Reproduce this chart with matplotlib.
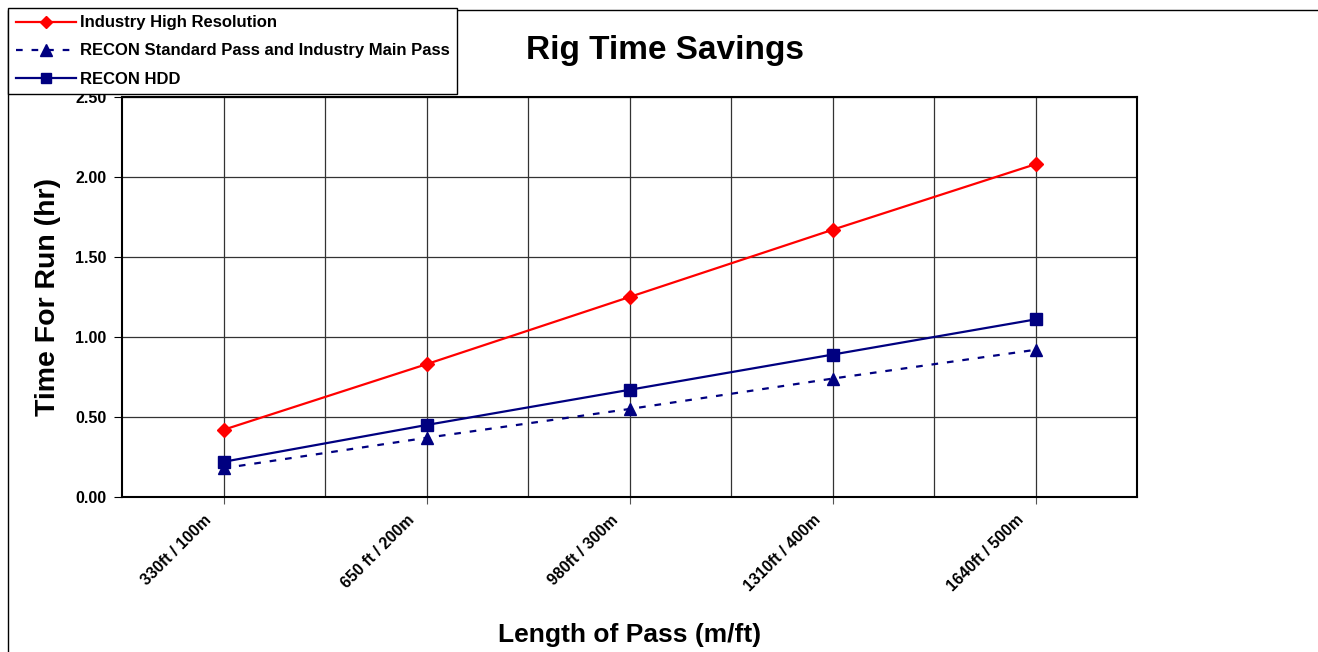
import matplotlib
matplotlib.use("Agg")
import matplotlib.pyplot as plt
from matplotlib.patches import Rectangle
import numpy as np

plt.rcParams["font.family"] = ["Liberation Sans", "DejaVu Sans"]

# === Data ===
categories = ["330ft / 100m", "650 ft / 200m", "980ft / 300m", "1310ft / 400m", "1640ft / 500m"]
industry_high = [0.42, 0.83, 1.25, 1.67, 2.08]
recon_standard = [0.18, 0.37, 0.55, 0.74, 0.92]
recon_hdd = [0.22, 0.45, 0.67, 0.89, 1.11]
yticks = [0.0, 0.5, 1.0, 1.5, 2.0, 2.5]

W, H = 1318, 652
fig = plt.figure(figsize=(W / 100, H / 100), dpi=100)

# chart border (Excel style frame, cut off on the right/bottom)
border = Rectangle((8 / W, -0.1), 2.0, 1.1 - 10 / H, transform=fig.transFigure,
                   fill=False, edgecolor="black", linewidth=1.0, zorder=0)
fig.patches.append(border)

ax = fig.add_axes([122 / W, 1 - 497 / H, 1015 / W, 400 / H])
x = np.arange(len(categories))

ax.plot(x, industry_high, "-", color="#FF0000", lw=1.6, marker="D", ms=7,
        label="Industry High Resolution", zorder=3)
ax.plot(x, recon_standard, "--", color="#000080", lw=1.6, marker="^", ms=9,
        dashes=(3, 4), label="RECON Standard Pass and Industry Main Pass", zorder=3)
ax.plot(x, recon_hdd, "-", color="#000080", lw=1.6, marker="s", ms=8,
        label="RECON HDD", zorder=3)

ax.set_xlim(-0.5, len(categories) - 0.5)
ax.set_ylim(0, 2.5)
ax.set_yticks(yticks)
ax.set_yticklabels([f"{v:.2f}" for v in yticks], fontsize=11.5, fontweight="bold")
ax.set_xticks(x)
ax.set_xticks(x[:-1] + 0.5, minor=True)
ax.set_xticklabels([])
# category labels, Excel puts them a bit left of the tick
for i, c in enumerate(categories):
    ax.annotate(c, xy=(x[i], 0), xycoords=("data", "axes fraction"),
                xytext=(-14, -11), textcoords="offset points", rotation=45,
                ha="right", va="top", rotation_mode="anchor",
                fontsize=11.5, fontweight="bold", annotation_clip=False)
ax.tick_params(axis="x", which="major", length=5, color="#555555")
ax.tick_params(axis="x", which="minor", length=0)
ax.tick_params(axis="y", length=6, pad=5)
ax.grid(True, which="both", color="#333333", linewidth=0.9)
ax.set_axisbelow(True)
for s in ax.spines.values():
    s.set_linewidth(1.5)

ax.set_ylabel("Time For Run (hr)", fontsize=20.5, fontweight="bold")
ax.yaxis.set_label_coords(-0.060, 0.5)
ax.set_xlabel("Length of Pass (m/ft)", fontsize=19, fontweight="bold")
ax.xaxis.set_label_coords(0.5, -0.315)
fig.text(665 / W, 1 - 50 / H, "Rig Time Savings", fontsize=24, fontweight="bold",
         ha="center", va="center")

leg = fig.legend(loc="upper left", bbox_to_anchor=(8 / W, 1 - 8 / H),
                 prop={"size": 12, "weight": "bold"}, frameon=True, fancybox=False,
                 edgecolor="black", framealpha=1, handlelength=3.65, handletextpad=0.2,
                 labelspacing=0.78, borderpad=0.45, borderaxespad=0, markerscale=0.9)
leg.get_frame().set_linewidth(1.0)
leg.set_zorder(5)

plt.savefig("out.png", dpi=100)
